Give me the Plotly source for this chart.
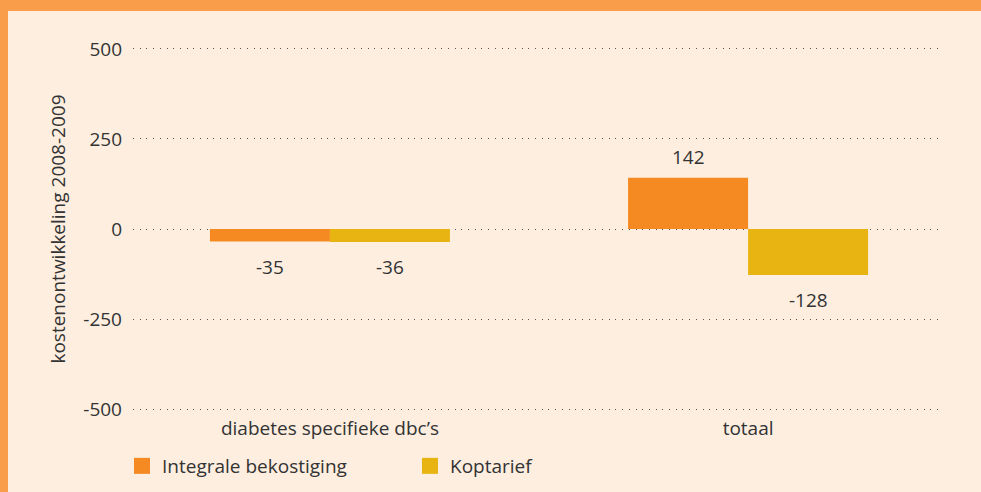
import plotly.graph_objects as go

categories = ["diabetes specifieke dbc’s", "totaal"]
integrale = [-35, 142]
koptarief = [-36, -128]
series_names = ["Integrale bekostiging", "Koptarief"]
y_ticks = [-500, -250, 0, 250, 500]

C_ORANGE = "#F58A22"
C_YELLOW = "#E8B412"
BG = "#FDEEE0"
BORDER = "#F99D4B"
TXT = "#333333"
FONT = "Open Sans"
FS = 19

fig = go.Figure()
for name, vals, col in ((series_names[0], integrale, C_ORANGE),
                        (series_names[1], koptarief, C_YELLOW)):
    fig.add_trace(go.Bar(x=categories, y=vals, name=name, legendgroup=name,
                         showlegend=False,
                         marker=dict(color=col, line=dict(width=0))))
    # legend entry with a larger square swatch
    fig.add_trace(go.Scatter(x=[None], y=[None], name=name, legendgroup=name,
                             mode="markers", showlegend=True,
                             marker=dict(symbol="square", size=16, color=col,
                                         line=dict(width=0))))

# value labels
for vals, shift in ((integrale, -60), (koptarief, 60)):
    for c, v in zip(categories, vals):
        fig.add_annotation(x=c, y=v, xref="x", yref="y", text=str(v),
                           showarrow=False, xshift=shift,
                           yshift=21 if v > 0 else -25,
                           yanchor="middle",
                           font=dict(family=FONT, size=FS, color=TXT))

L, R, T, B = 133, 41, 45, 79
W, H = 981, 492
pw, ph = W - L - R, H - T - B

def px(x):
    return (x - L) / pw

def py(y):
    return (H - B - y) / ph

# frame border (top and left)
fig.add_shape(type="rect", xref="paper", yref="paper",
              x0=px(0), x1=px(W), y0=py(11), y1=py(0),
              fillcolor=BORDER, line=dict(width=0), layer="below")
fig.add_shape(type="rect", xref="paper", yref="paper",
              x0=px(0), x1=px(8), y0=py(H), y1=py(0),
              fillcolor=BORDER, line=dict(width=0), layer="below")

fig.update_layout(
    width=W, height=H,
    margin=dict(l=L, r=R, t=T, b=B, pad=0, autoexpand=False),
    paper_bgcolor=BG, plot_bgcolor="rgba(0,0,0,0)",
    barmode="group", bargap=0.426, bargroupgap=0,
    font=dict(family=FONT, size=FS, color=TXT),
    showlegend=True,
    legend=dict(orientation="h", x=px(122), xanchor="left",
                y=py(466), yanchor="middle", entrywidth=243,
                entrywidthmode="pixels", bgcolor="rgba(0,0,0,0)",
                itemsizing="trace",
                font=dict(family=FONT, size=FS, color=TXT),
                traceorder="normal"),
    xaxis=dict(type="category", range=[-0.471, 1.459], showgrid=False,
               zeroline=False, showline=False, ticks="",
               ticklabelstandoff=2, automargin=False,
               tickfont=dict(family=FONT, size=FS, color=TXT)),
    yaxis=dict(range=[-511, 511], tickvals=y_ticks,
               ticktext=[str(t) for t in y_ticks],
               showgrid=True, gridcolor="#555555", gridwidth=1.3,
               griddash="1px,5.7px", zeroline=False, showline=False,
               ticks="", ticklabelstandoff=10, automargin=False,
               tickfont=dict(family=FONT, size=FS, color=TXT),
               title=dict(text="kostenontwikkeling 2008-2009", standoff=12,
                          font=dict(family=FONT, size=FS, color=TXT))),
)

fig.write_html("out.html", config={"displayModeBar": False},
               post_script="document.body.style.margin='0';document.body.style.padding='0';")
